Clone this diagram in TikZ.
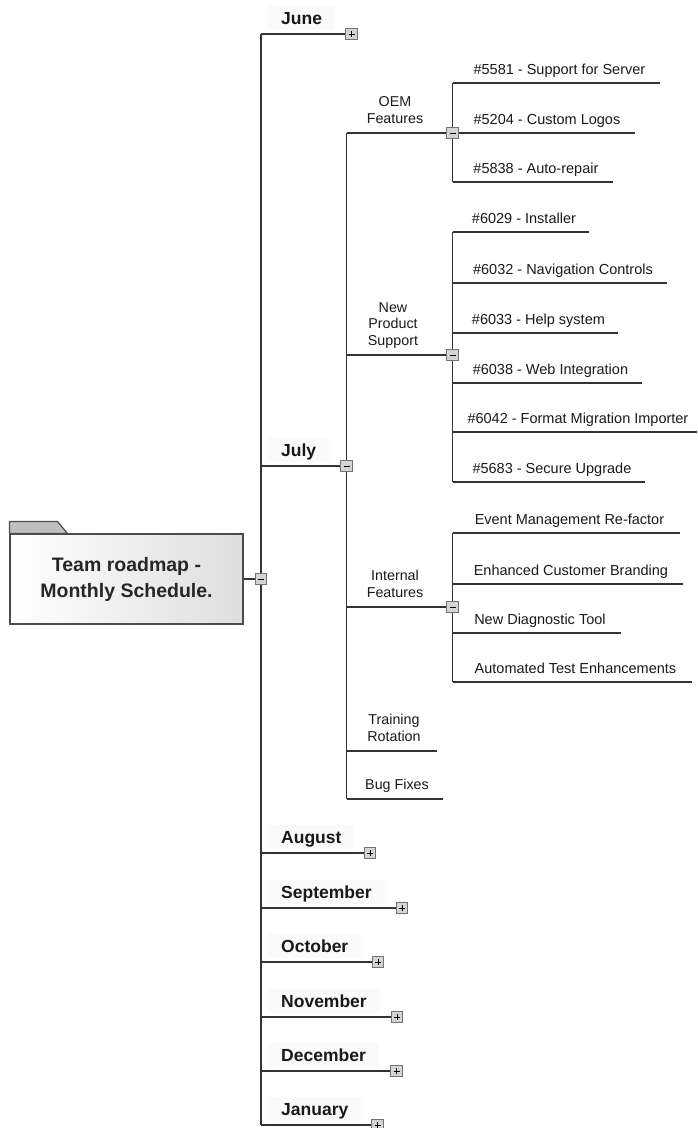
\documentclass[tikz,border=0pt]{standalone}
\usepackage{fontspec}
\setmainfont{Liberation Sans}
\usetikzlibrary{backgrounds}
\tikzset{
 ln/.style={draw=black!80, line width=1.2pt},
 btn/.style={rectangle, draw=black!55, fill=black!17, minimum size=11.5pt, inner sep=0pt, line width=0.9pt},
 plusbtn/.style={btn, path picture={\draw[black, line width=1pt] ([xshift=-3pt]path picture bounding box.center) -- ([xshift=3pt]path picture bounding box.center) ([yshift=-3pt]path picture bounding box.center) -- ([yshift=3pt]path picture bounding box.center);}},
 minusbtn/.style={btn, path picture={\draw[black, line width=1pt] ([xshift=-3pt]path picture bounding box.center) -- ([xshift=3pt]path picture bounding box.center);}},
 month/.style={anchor=west, fill=black!2, font=\fontsize{17.5}{20}\selectfont\bfseries, minimum height=24pt, inner xsep=13pt, text height=12.5pt, text depth=0pt, text=black!90},
 topic/.style={anchor=south, inner sep=0pt, align=center, font=\fontsize{14.3}{16.5}\selectfont, text depth=3pt, text=black!90},
 leaf/.style={anchor=south west, inner sep=0pt, minimum height=25pt, font=\fontsize{14.5}{16.5}\selectfont, text height=10.5pt, text depth=3pt, text=black!90, execute at begin node={\hspace*{6pt}}},
}
\begin{document}
\begin{tikzpicture}[x=1pt, y={(0pt,-1pt)}]
\useasboundingbox (0,0) rectangle (697,1128);
% root
\node[draw=black!70, line width=1.2pt, left color=white, right color=black!13, minimum width=233pt, minimum height=90pt, align=center, font=\fontsize{19.5}{26}\selectfont\bfseries, text=black!85] (root) at (126.5,579) {Team roadmap -\\Monthly Schedule.};
\draw[draw=black!70, line width=1.2pt, fill=black!25] (root.north west) -- ++(0,-12) -- ++(48,0) -- ++(10,12) -- cycle;
\node[minusbtn] (bRoot) at (261,579) {};
% month spine coordinates
\coordinate (sJune) at (261,34);
\coordinate (sJuly) at (261,466);
\coordinate (sAug) at (261,853);
\coordinate (sSep) at (261,908);
\coordinate (sOct) at (261,962);
\coordinate (sNov) at (261,1017);
\coordinate (sDec) at (261,1071);
\coordinate (sJan) at (261,1125);
% month labels
\node[month] (mJune) at (268,18) {June};
\node[month] (mJuly) at (268,450) {July};
\node[month] (mAug) at (268,837) {August};
\node[month] (mSep) at (268,892) {September};
\node[month] (mOct) at (268,946) {October};
\node[month] (mNov) at (268,1001) {November};
\node[month] (mDec) at (268,1055) {December};
\node[month] (mJan) at (268,1109) {January};
% month buttons
\node[plusbtn] (bJune) at (351.5,34) {};
\node[minusbtn] (bJuly) at (346.5,466) {};
\node[plusbtn] (bAug) at (370,853) {};
\node[plusbtn] (bSep) at (402,908) {};
\node[plusbtn] (bOct) at (378,962) {};
\node[plusbtn] (bNov) at (397,1017) {};
\node[plusbtn] (bDec) at (396.5,1071) {};
\node[plusbtn] (bJan) at (377.5,1125) {};
% July topics
\coordinate (jOEM) at (346.5,133);
\coordinate (jNPS) at (346.5,355);
\coordinate (jInt) at (346.5,607);
\coordinate (jTrain) at (346.5,751);
\coordinate (jBug) at (346.5,799);
\coordinate (eTrain) at (437,751);
\coordinate (eBug) at (443,799);
\node[topic] (tOEM) at (395,126.5) {OEM\\Features};
\node[topic] (tNPS) at (393,348.5) {New\\Product\\Support};
\node[topic] (tInt) at (395,600.5) {Internal\\Features};
\node[topic] (tTrain) at (394,744.5) {Training\\Rotation};
\node[topic] (tBug) at (397,792.5) {Bug Fixes};
\node[minusbtn] (bOEM) at (452.5,133) {};
\node[minusbtn] (bNPS) at (452.5,355) {};
\node[minusbtn] (bInt) at (452.5,607) {};
% leaves
\node[leaf, minimum width=207.5pt] (o1) at (452.5,83) {\#5581 - Support for Server};
\node[leaf, minimum width=182.5pt] (o2) at (452.5,133) {\#5204 - Custom Logos};
\node[leaf, minimum width=160.5pt] (o3) at (452.5,182) {\#5838 - Auto-repair};
\node[leaf, minimum width=136.5pt] (n1) at (452.5,232) {\#6029 - Installer};
\node[leaf, minimum width=214.5pt] (n2) at (452.5,283) {\#6032 - Navigation Controls};
\node[leaf, minimum width=165.5pt] (n3) at (452.5,333) {\#6033 - Help system};
\node[leaf, minimum width=189.5pt] (n4) at (452.5,383) {\#6038 - Web Integration};
\node[leaf, minimum width=244.5pt] (n5) at (452.5,432) {\#6042 - Format Migration Importer};
\node[leaf, minimum width=192.5pt] (n6) at (452.5,482) {\#5683 - Secure Upgrade};
\node[leaf, minimum width=227.5pt] (i1) at (452.5,533) {Event Management Re-factor};
\node[leaf, minimum width=230.5pt] (i2) at (452.5,584) {Enhanced Customer Branding};
\node[leaf, minimum width=168.5pt] (i3) at (452.5,633) {New Diagnostic Tool};
\node[leaf, minimum width=239.5pt] (i4) at (452.5,682) {Automated Test Enhancements};
\begin{scope}[on background layer]
 \draw[ln] (root) -- (bRoot);
 \draw[ln] (sJune) -- (sJan);
 \draw[ln] (sJune) -- (bJune);
 \draw[ln] (sJuly) -- (bJuly);
 \draw[ln] (sAug) -- (bAug);
 \draw[ln] (sSep) -- (bSep);
 \draw[ln] (sOct) -- (bOct);
 \draw[ln] (sNov) -- (bNov);
 \draw[ln] (sDec) -- (bDec);
 \draw[ln] (sJan) -- (bJan);
 \draw[ln] (jOEM) -- (jBug);
 \draw[ln] (jOEM) -- (bOEM);
 \draw[ln] (jNPS) -- (bNPS);
 \draw[ln] (jInt) -- (bInt);
 \draw[ln] (jTrain) -- (eTrain);
 \draw[ln] (jBug) -- (eBug);
 \draw[ln] (o1.south west) -- (o3.south west);
 \draw[ln] (n1.south west) -- (n6.south west);
 \draw[ln] (i1.south west) -- (i4.south west);
 \foreach \n in {o1,o2,o3,n1,n2,n3,n4,n5,n6,i1,i2,i3,i4}
  \draw[ln] (\n.south west) -- (\n.south east);
\end{scope}
\end{tikzpicture}
\end{document}
